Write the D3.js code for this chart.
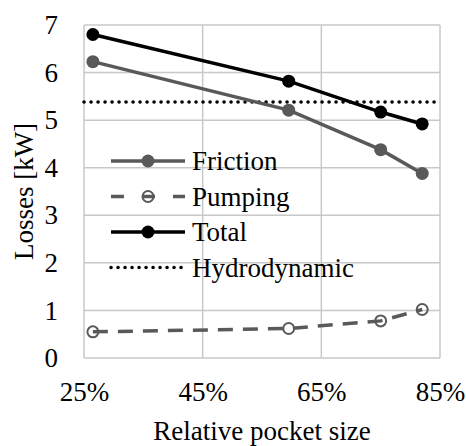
<!DOCTYPE html>
<html>
<head>
<meta charset="utf-8">
<script src="https://cdn.jsdelivr.net/npm/d3@7"></script>
<style>
  body { margin: 0; background: #fff; }
</style>
</head>
<body>
<script>
// data
var pocket = [0.265, 0.595, 0.75, 0.82];
var friction = [6.23, 5.21, 4.38, 3.88];
var pumping = [0.55, 0.62, 0.78, 1.02];
var total = [6.8, 5.82, 5.17, 4.92];
var hydrodynamic = 5.38;
var xTicks = [0.25, 0.45, 0.65, 0.85];
var yTicks = [0, 1, 2, 3, 4, 5, 6, 7];

var width = 466, height = 446;
var margin = {left: 84, right: 26, top: 25, bottom: 88};
var fontSize = 27;
var fontName = "Times New Roman";

var svg = d3.select("body").append("svg")
  .attr("width", width)
  .attr("height", height)
  .style("font-family", fontName);

var x = d3.scaleLinear().domain([0.25, 0.85]).range([margin.left, width - margin.right]);
var y = d3.scaleLinear().domain([0, 7]).range([height - margin.bottom, margin.top]);

// grid
var grid = svg.append("g").attr("class", "grid");
grid.selectAll("line.h").data(yTicks).enter().append("line")
  .attr("x1", x(0.25)).attr("x2", x(0.85))
  .attr("y1", function(d) { return y(d); }).attr("y2", function(d) { return y(d); })
  .attr("stroke", "#c8c8c8").attr("stroke-width", 1.5);
grid.selectAll("line.v").data(xTicks).enter().append("line")
  .attr("y1", y(0)).attr("y2", y(7))
  .attr("x1", function(d) { return x(d); }).attr("x2", function(d) { return x(d); })
  .attr("stroke", "#c8c8c8").attr("stroke-width", 1.5);

// axes
var gy = svg.append("g")
  .attr("transform", "translate(" + margin.left + ",0)")
  .call(d3.axisLeft(y).tickValues(yTicks).tickSize(0).tickPadding(26).tickFormat(d3.format("d")));
var gx = svg.append("g")
  .attr("transform", "translate(0," + y(0) + ")")
  .call(d3.axisBottom(x).tickValues(xTicks).tickSize(0).tickPadding(24).tickFormat(d3.format(".0%")));
gy.attr("font-family", null).attr("font-size", null);
gx.attr("font-family", null).attr("font-size", null);
svg.selectAll(".domain").remove();
svg.selectAll(".tick text")
  .attr("fill", "#000")
  .attr("font-family", fontName)
  .attr("font-size", fontSize);

// hydrodynamic
svg.append("line")
  .attr("x1", x(0.25)).attr("x2", x(0.85))
  .attr("y1", y(hydrodynamic)).attr("y2", y(hydrodynamic))
  .attr("stroke", "#000").attr("stroke-width", 3.5)
  .attr("stroke-dasharray", "0.1,6.9").attr("stroke-linecap", "round");

var line = d3.line()
  .x(function(d, i) { return x(pocket[i]); })
  .y(function(d) { return y(d); });

// pumping
svg.append("path").datum(pumping)
  .attr("d", line).attr("fill", "none")
  .attr("stroke", "#595959").attr("stroke-width", 3.5)
  .attr("stroke-dasharray", "15,10");
svg.selectAll("circle.pump").data(pumping).enter().append("circle")
  .attr("cx", function(d, i) { return x(pocket[i]); })
  .attr("cy", function(d) { return y(d); })
  .attr("r", 5.5).attr("fill", "none")
  .attr("stroke", "#595959").attr("stroke-width", 2);

// friction
svg.append("path").datum(friction)
  .attr("d", line).attr("fill", "none")
  .attr("stroke", "#595959").attr("stroke-width", 3.5);
svg.selectAll("circle.fric").data(friction).enter().append("circle")
  .attr("cx", function(d, i) { return x(pocket[i]); })
  .attr("cy", function(d) { return y(d); })
  .attr("r", 6.5).attr("fill", "#595959");

// total
svg.append("path").datum(total)
  .attr("d", line).attr("fill", "none")
  .attr("stroke", "#000").attr("stroke-width", 3.5);
svg.selectAll("circle.tot").data(total).enter().append("circle")
  .attr("cx", function(d, i) { return x(pocket[i]); })
  .attr("cy", function(d) { return y(d); })
  .attr("r", 6.5).attr("fill", "#000");

// legend
var legend = [
  {name: "Friction", color: "#595959", dash: null, marker: "fill"},
  {name: "Pumping", color: "#595959", dash: "15,10", marker: "open"},
  {name: "Total", color: "#000", dash: null, marker: "fill"},
  {name: "Hydrodynamic", color: "#000", dash: "dot", marker: null}
];
var lg = svg.append("g").selectAll("g").data(legend).enter().append("g")
  .attr("transform", function(d, i) { return "translate(111," + (161 + i * 35.5) + ")"; });
lg.append("line")
  .attr("x1", 0).attr("x2", 74).attr("y1", 0).attr("y2", 0)
  .attr("stroke", function(d) { return d.color; })
  .attr("stroke-width", 3.5)
  .attr("stroke-linecap", function(d) { return d.dash == "dot" ? "round" : "butt"; })
  .attr("stroke-dasharray", function(d) {
    if (d.dash == "dot") return "0.1,6.9";
    if (d.dash) return "13,18";
    return null;
  });
lg.filter(function(d) { return d.marker; }).append("circle")
  .attr("cx", 37).attr("cy", 0)
  .attr("r", function(d) { return d.marker == "open" ? 5.5 : 6.5; })
  .attr("fill", function(d) { return d.marker == "open" ? "none" : d.color; })
  .attr("stroke", function(d) { return d.marker == "open" ? d.color : "none"; })
  .attr("stroke-width", 2);
lg.append("text")
  .attr("x", 81).attr("y", 9)
  .attr("font-family", fontName)
  .attr("font-size", fontSize)
  .text(function(d) { return d.name; });

// axis titles
svg.append("text")
  .attr("x", (x(0.25) + x(0.85)) / 2).attr("y", 440)
  .attr("text-anchor", "middle")
  .attr("font-family", fontName)
  .attr("font-size", fontSize)
  .text("Relative pocket size");
svg.append("text")
  .attr("transform", "translate(33," + ((y(0) + y(7)) / 2) + ") rotate(-90)")
  .attr("text-anchor", "middle")
  .attr("font-family", fontName)
  .attr("font-size", fontSize)
  .text("Losses [kW]");
</script>
</body>
</html>
